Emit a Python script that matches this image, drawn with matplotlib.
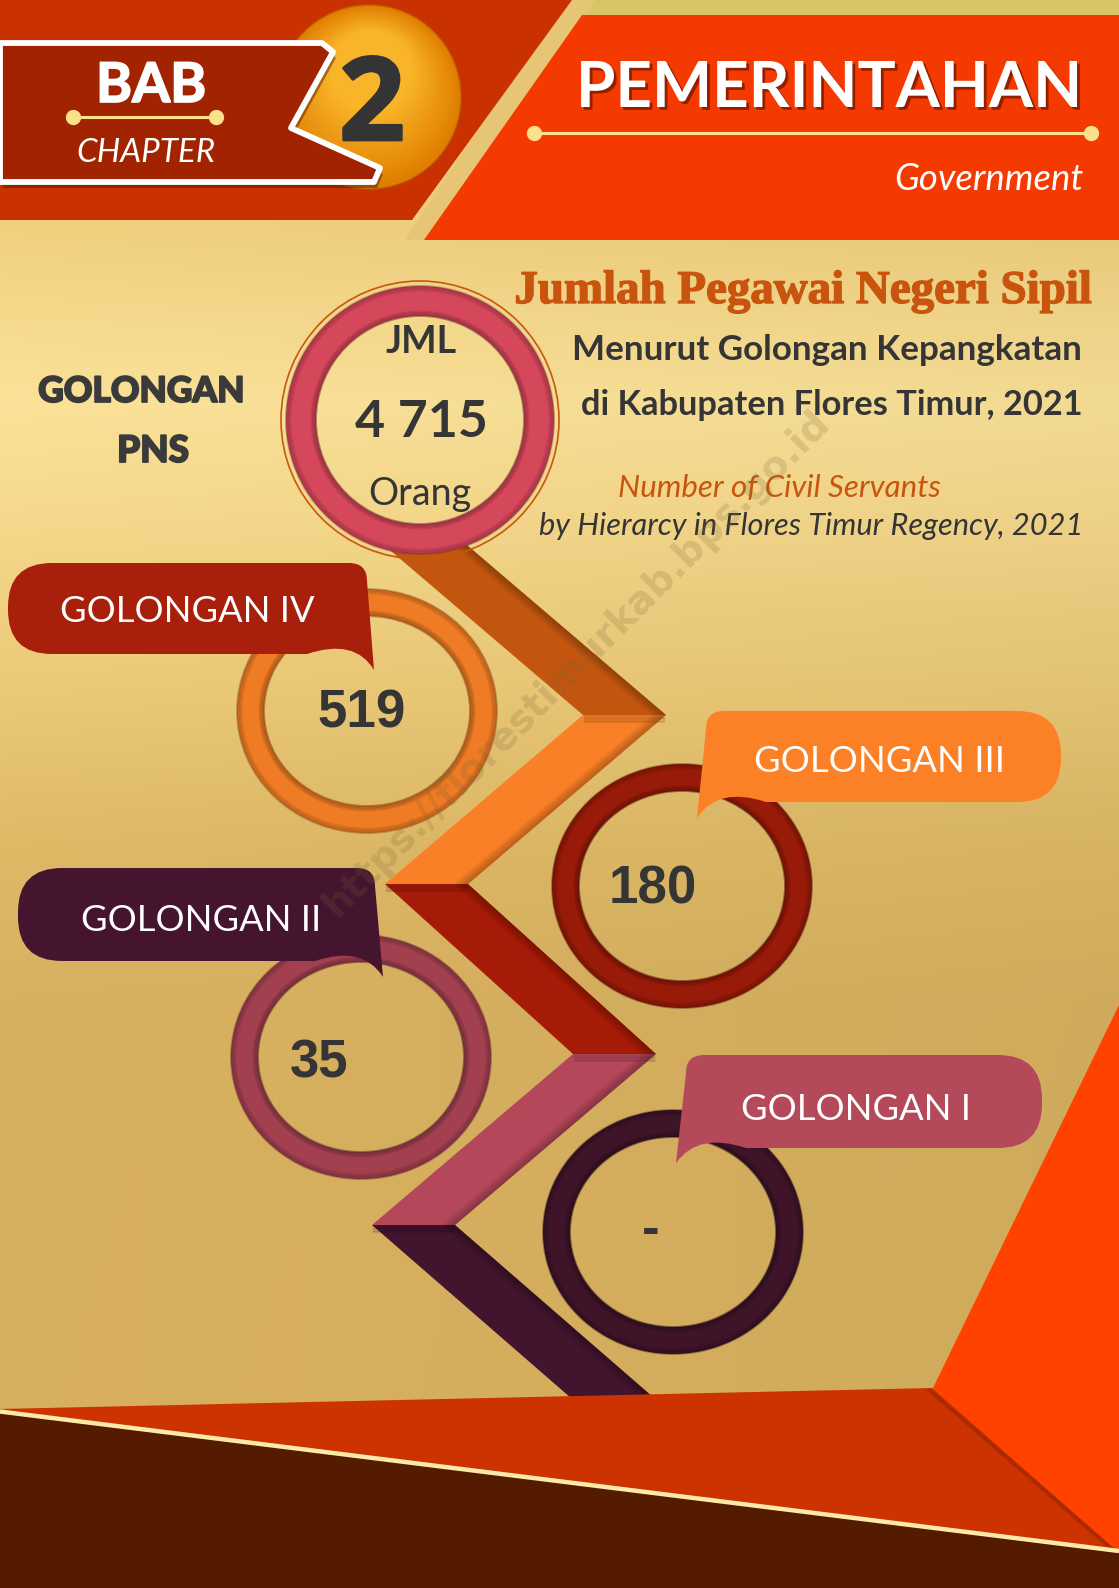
import numpy as np
import matplotlib
matplotlib.use("Agg")
import matplotlib.pyplot as plt
from matplotlib.path import Path
from matplotlib.patches import PathPatch, Polygon, Ellipse, Circle
import matplotlib.patheffects as pe
from matplotlib.colors import to_rgb

# ---------------- data ----------------
categories = ["GOLONGAN IV", "GOLONGAN III", "GOLONGAN II", "GOLONGAN I"]
values = [519, 180, 35, None]          # None is printed as "-"
total_top = "JML"
total_label = "4 715"
total_unit = "Orang"
chapter_word = "BAB"
chapter_en = "CHAPTER"
chapter_no = "2"
section_title = "PEMERINTAHAN"
section_en = "Government"
side_title = ["GOLONGAN", "PNS"]
title_lines = ["Jumlah Pegawai Negeri Sipil",
               "Menurut Golongan Kepangkatan",
               "di Kabupaten Flores Timur, 2021"]
subtitle_lines = ["Number of Civil Servants",
                  "by Hierarcy in Flores Timur Regency, 2021"]
watermark = "https://florestimurkab.bps.go.id"

# ---------------- layout / style ----------------
W, H = 1119, 1588
ring_centers = [(367, 711), (682, 886), (361, 1057), (673, 1232)]
ring_rx, ring_ry, ring_t = 130, 122, 27
ring_colors = ["#EF7C24", "#981A08", "#A2404F", "#3F1429"]
bubble_boxes = [(8, 367, 563, 654), (706, 1061, 711, 802),
                (18, 375, 868, 961), (686, 1042, 1055, 1148)]
bubble_sides = ["left", "right", "left", "right"]
bubble_tips = [(374, 670), (697, 818), (383, 977), (676, 1163)]
bubble_colors = ["#A81F0B", "#FB8026", "#45152F", "#B4495A"]
label_pos = [(187, 622, 253), (879, 772, 249), (201, 931, 238), (856, 1120, 228)]
value_pos = [(362, 727), (653, 904), (319, 1077), (651, 1245)]
zig_y = [528, 715, 884, 1054, 1225, 1398]
zig_x = [364, 583, 385, 573, 372, 571]
zig_w = 83
zig_colors = ["#C2560F", "#F98026", "#A61B08", "#B4485A", "#43142E"]

fig = plt.figure(figsize=(W / 100, H / 100), dpi=100)
ax = fig.add_axes([0, 0, 1, 1])
renderer = fig.canvas.get_renderer()


def darker(c, f):
    r, g, b = to_rgb(c)
    return (r * f, g * f, b * f)


def fit_text(s, x, y, width, ha="center", **kw):
    t = ax.text(x, y, s, ha=ha, va="baseline", fontsize=20, **kw)
    bb = t.get_window_extent(renderer)
    t.set_fontsize(20 * width / bb.width)
    return t


# ---------------- background ----------------
ys = np.linspace(0, H, 240)
stops_y = [0, 230, 400, 550, 700, 850, 1000, 1588]
stops_c = np.array([[238, 204, 122], [241, 209, 128], [251, 226, 152], [244, 214, 136],
                    [234, 200, 118], [222, 185, 102], [216, 177, 96], [216, 176, 95]]) / 255
col = np.stack([np.interp(ys, stops_y, stops_c[:, k]) for k in range(3)], axis=-1)
xs = np.linspace(0, 1, 120)
shade = 1 - 0.035 * xs
img = np.clip(col[:, None, :] * shade[None, :, None], 0, 1)
ax.imshow(img, extent=[0, W, H, 0], aspect="auto", interpolation="bilinear", zorder=0)

# ---------------- header ----------------
ax.add_patch(Polygon([(560, 0), (W, 0), (W, 16), (580, 16)], closed=True, fc="#D7C566", ec="none", zorder=1))
ax.add_patch(Polygon([(565, 0), (595, 0), (436, 240), (405, 240)], closed=True, fc="#E6C676", ec="none", zorder=1))
ax.add_patch(Polygon([(0, 0), (572, 0), (412, 220), (0, 220)], closed=True, fc="#C93200", ec="none", zorder=2))
ax.add_patch(Polygon([(582, 15), (W, 15), (W, 240), (424, 240)], closed=True, fc="#F43A00", ec="none", zorder=2))

# orange ball
bc, br = (369, 97), 92
for k in range(14):
    f = k / 13
    c = np.array(to_rgb("#E07E00")) * (1 - f) + np.array(to_rgb("#F9B52A")) * f
    ax.add_patch(Circle((bc[0] + 2 * f, bc[1] - 26 * f), br * (1 - 0.55 * f), fc=c, ec="none", zorder=3))
ax.add_patch(Circle(bc, br, fill=False, ec="#B86200", lw=1.2, alpha=0.6, zorder=3.1))

# ribbon
rib = [(0, 43), (322, 43), (333, 52), (291, 128), (380, 168), (374, 182), (0, 182)]
ax.add_patch(Polygon([(x + 3, y + 6) for x, y in rib], closed=True, fc="#4A1000", ec="none", alpha=0.45, zorder=3.5))
ax.add_patch(Polygon(rib, closed=True, fc="#A12300", ec="white", lw=4.2, joinstyle="round", zorder=4))

ax.plot([73, 216], [117, 117], color="#FCE08A", lw=2.2, zorder=5, solid_capstyle="butt")
ax.plot([73, 216], [117, 117], "o", color="#FCE08A", ms=10, zorder=5)
ax.plot([534, 1091], [133, 133], color="#FCE08A", lw=2.2, zorder=5)
ax.plot([534, 1091], [133, 133], "o", color="#FCE08A", ms=10, zorder=5)

t = fit_text(chapter_word, 151, 102, 110, color="white", family="Lato", fontweight="bold", zorder=6)
t.set_path_effects([pe.withStroke(linewidth=1.2, foreground="white")])
fit_text(chapter_en, 146, 162, 139, color="white", family="Lato", style="italic", zorder=6)
t = fit_text(chapter_no, 372, 140, 66, color="#343434", family="Open Sans", fontweight="bold", zorder=6)
t.set_path_effects([pe.withStroke(linewidth=2.0, foreground="#343434")])
t = fit_text(section_title, 829, 107, 506, color="white", family="Lato", fontweight="bold", zorder=6)
t.set_path_effects([pe.withSimplePatchShadow(offset=(2, -2), shadow_rgbFace="#6A1400", alpha=0.7)])
fit_text(section_en, 1084, 190, 189, ha="right", color="white", family="Lato", style="italic", zorder=6)

# ---------------- zigzag bands ----------------
for i, c in enumerate(zig_colors):
    x0, x1, y0, y1 = zig_x[i], zig_x[i + 1], zig_y[i], zig_y[i + 1]
    z = 2 + i * 0.1
    ax.add_patch(Polygon([(x0, y0), (x0 + zig_w, y0), (x1 + zig_w, y1), (x1, y1)], closed=True,
                         fc=c, ec="none", zorder=z))
    for k in range(6):
        d = 2 + k * 2.5
        ax.add_patch(Polygon([(x0 + zig_w - d, y0), (x0 + zig_w, y0), (x1 + zig_w, y1), (x1 + zig_w - d, y1)],
                             closed=True, fc=darker(c, 0.35), ec="none", alpha=0.07, zorder=z + 0.01))
    if i > 0:
        for k in range(5):
            ax.plot([x0 + 2, x0 + zig_w - 2], [y0 + 1 + k * 1.6, y0 + 1 + k * 1.6], color=darker(c, 0.3),
                    lw=1.6, alpha=0.12, zorder=z + 0.02)

# ---------------- rings ----------------


def ring(cx, cy, rx, ry, t, color, z):
    th = np.linspace(0, 2 * np.pi, 241)
    outer = np.c_[cx + rx * np.cos(th), cy + ry * np.sin(th)]
    inner = np.c_[cx + (rx - t) * np.cos(th[::-1]), cy + (ry - t) * np.sin(th[::-1])]
    verts = np.concatenate([outer, [[0, 0]], inner, [[0, 0]]])
    n = len(th)
    codes = ([Path.MOVETO] + [Path.LINETO] * (n - 1) + [Path.CLOSEPOLY]) * 2
    ax.add_patch(PathPatch(Path(verts, codes), fc=color, ec="none", zorder=z))
    dk = darker(color, 0.45)
    for k in range(4):
        ax.add_patch(Ellipse((cx, cy), 2 * (rx - k * 1.5), 2 * (ry - k * 1.5), fill=False, ec=dk,
                             lw=1.4, alpha=0.35 - k * 0.07, zorder=z + 0.1))
        ax.add_patch(Ellipse((cx, cy), 2 * (rx - t + k * 1.5), 2 * (ry - t + k * 1.5), fill=False, ec=dk,
                             lw=1.4, alpha=0.45 - k * 0.09, zorder=z + 0.1))


ax.add_patch(Circle((420, 420), 139, fill=False, ec="#C8580F", lw=1.2, zorder=3))
ring(420, 420, 134, 134, 30, "#D5475A", 3.1)

for (cx, cy), c in zip(ring_centers, ring_colors):
    ring(cx, cy, ring_rx, ring_ry, ring_t, c, 3.2)

# ---------------- bubbles ----------------


def bubble_path(x0, x1, y0, y1, side, tip, rb=44, rs=18):
    M, L, C, Z = Path.MOVETO, Path.LINETO, Path.CURVE3, Path.CLOSEPOLY
    tx, ty = tip
    if side == "left":
        v = [(x0 + rb, y0), (x1 - rs, y0), (x1, y0), (x1, y0 + rs), (tx, ty),
             (x1 - 12, y1 - 16), (x1 - 60, y1), (x0 + rb, y1), (x0, y1), (x0, y1 - rb),
             (x0, y0 + rb), (x0, y0), (x0 + rb, y0), (0, 0)]
    else:
        v = [(x1 - rb, y0), (x0 + rs, y0), (x0, y0), (x0, y0 + rs), (tx, ty),
             (x0 + 12, y1 - 16), (x0 + 60, y1), (x1 - rb, y1), (x1, y1), (x1, y1 - rb),
             (x1, y0 + rb), (x1, y0), (x1 - rb, y0), (0, 0)]
    c = [M, L, C, C, L, C, C, L, C, C, L, C, C, Z]
    return Path(v, c)


for box, side, tip, c in zip(bubble_boxes, bubble_sides, bubble_tips, bubble_colors):
    ax.add_patch(PathPatch(bubble_path(*box, side, tip), fc=c, ec="none", zorder=4))

for name, (x, y, w) in zip(categories, label_pos):
    fit_text(name, x, y, w, color="white", family="Lato", zorder=5)

vt = fit_text(str(values[0]), value_pos[0][0], value_pos[0][1], 88, color="#353535",
              family="Liberation Sans", fontweight="bold", zorder=5)
vfs = vt.get_fontsize()
for v, (x, y) in zip(values[1:], value_pos[1:]):
    ax.text(x, y, "-" if v is None else str(v), ha="center", va="baseline", fontsize=vfs,
            color="#353535", family="Liberation Sans", fontweight="bold", zorder=5)

fit_text(total_top, 421, 353, 71, color="#353535", family="Lato", fontweight="bold", zorder=5)
fit_text(total_label, 421, 437, 133, color="#353535", family="Lato", fontweight="bold", zorder=5)
fit_text(total_unit, 420, 505, 103, color="#353535", family="Lato", zorder=5)

heavy = [pe.withStroke(linewidth=1.3, foreground="#3A3A3A")]
t = fit_text(side_title[0], 141, 402, 206, color="#3A3A3A", family="Lato", fontweight="black", zorder=5)
t.set_path_effects(heavy)
t = fit_text(side_title[1], 153, 462, 72, color="#3A3A3A", family="Lato", fontweight="black", zorder=5)
t.set_path_effects(heavy)

t = fit_text(title_lines[0], 803, 303, 578, color="#C8540E", family="Liberation Serif", fontweight="bold", zorder=5)
t.set_path_effects([pe.withStroke(linewidth=1.0, foreground="#C8540E")])
fit_text(title_lines[1], 827, 360, 509, color="#353535", family="Lato", fontweight="bold", zorder=5)
fit_text(title_lines[2], 832, 415, 502, color="#353535", family="Lato", fontweight="bold", zorder=5)
fit_text(subtitle_lines[0], 779, 497, 322, color="#C8540E", family="Lato", style="italic", zorder=5)
fit_text(subtitle_lines[1], 811, 535, 544, color="#353535", family="Lato", style="italic", zorder=5)

# ---------------- bottom ----------------
ax.add_patch(Polygon([(W, 1005), (932, 1390), (W, 1555)], closed=True, fc="#FF4200", ec="none", zorder=6))
ax.add_patch(Polygon([(0, 1409), (932, 1388), (W, 1553), (W, 1556), (0, 1413)], closed=True,
                     fc="#CC3300", ec="none", zorder=6.1))
for k in range(5):
    ax.plot([932 - k * 1.2, W - k * 1.2], [1390, 1553], color="#5A1500", lw=1.4, alpha=0.12, zorder=6.15)
ax.add_patch(Polygon([(0, 1413), (W, 1552), (W, H), (0, H)], closed=True, fc="#541B00", ec="none", zorder=6.2))
ax.plot([0, W], [1411.5, 1551], color="#FFE9A8", lw=3.2, zorder=6.3, solid_capstyle="butt")

wm = ax.text(577, 663, watermark, ha="center", va="center", fontsize=20, color="#7A6238",
             alpha=0.2, family="DejaVu Sans", fontweight="bold", rotation_mode="anchor", zorder=7)
bb = wm.get_window_extent(renderer)
wm.set_fontsize(20 * 700 / bb.width)
wm.set_rotation(45)

ax.set_xlim(0, W)
ax.set_ylim(H, 0)
ax.axis("off")
fig.savefig("out.png", dpi=100)
